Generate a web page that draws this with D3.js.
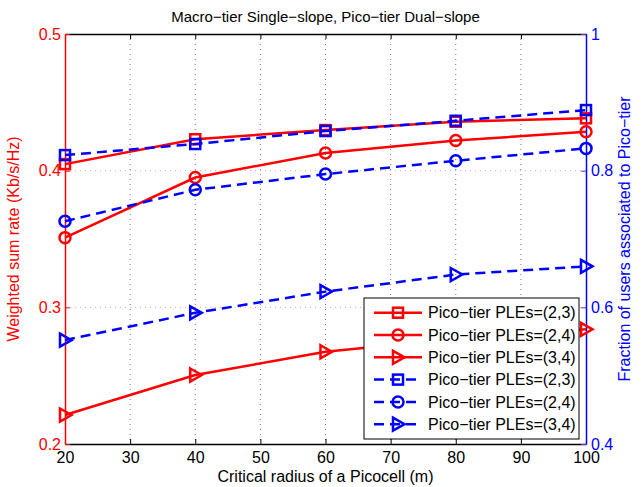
<!DOCTYPE html>
<html><head><meta charset="utf-8">
<script src="https://cdn.jsdelivr.net/npm/d3@7"></script>
<style>
html,body{margin:0;padding:0;background:#fff;}
text{font-family:"Liberation Sans",Arial,Helvetica,sans-serif;}
</style></head>
<body><svg id="chart" width="643" height="487"></svg>
<script>
const radius = [20, 40, 60, 80, 100];
const rateSquare = [0.4048, 0.423, 0.4297, 0.4358, 0.4383];
const rateCircle = [0.351, 0.395, 0.413, 0.422, 0.4285];
const rateTriangle = [0.2212, 0.2505, 0.2675, 0.277, 0.2839];
const fracSquare = [0.8228, 0.839, 0.858, 0.873, 0.8887];
const fracCircle = [0.726, 0.772, 0.795, 0.8145, 0.8326];
const fracTriangle = [0.552, 0.592, 0.623, 0.648, 0.660];
const xTicks = [20, 30, 40, 50, 60, 70, 80, 90, 100];
const leftTicks = [0.2, 0.3, 0.4, 0.5];
const rightTicks = [0.4, 0.6, 0.8, 1];
const legendLabels = ["Pico\u2212tier PLEs=(2,3)", "Pico\u2212tier PLEs=(2,4)", "Pico\u2212tier PLEs=(3,4)",
                      "Pico\u2212tier PLEs=(2,3)", "Pico\u2212tier PLEs=(2,4)", "Pico\u2212tier PLEs=(3,4)"];

const L = 65, R = 586, T = 34, B = 444;
const RED = "#ff0000", BLUE = "#0000ff";
const svg = d3.select("#chart");
const x = d3.scaleLinear().domain([20, 100]).range([L, R]);
const yL = d3.scaleLinear().domain([0.2, 0.5]).range([B, T]);
const yR = d3.scaleLinear().domain([0.4, 1]).range([B, T]);

// grid
const grid = svg.append("g");
grid.selectAll(".vg").data(xTicks.slice(1, -1)).join("line")
  .attr("x1", d => x(d)).attr("x2", d => x(d)).attr("y1", T).attr("y2", B)
  .attr("stroke", "#777").attr("stroke-width", 1).attr("stroke-dasharray", "1,4");
grid.selectAll(".hg").data(leftTicks.slice(1, -1)).join("line")
  .attr("x1", L).attr("x2", R).attr("y1", d => yL(d)).attr("y2", d => yL(d))
  .attr("stroke", "#f59a9a").attr("stroke-width", 1).attr("stroke-dasharray", "1,4");

// axes
const fs = "16px";
const axBottom = svg.append("g").attr("transform", `translate(0,${B})`)
  .call(d3.axisBottom(x).tickValues(xTicks).tickFormat(d3.format("d")).tickSizeInner(-5).tickSizeOuter(0).tickPadding(8));
axBottom.select(".domain").attr("stroke", "#000").attr("stroke-width", 1.5);
axBottom.selectAll(".tick line").attr("stroke", "#000");
axBottom.selectAll("text").attr("font-size", fs).attr("fill", "#000").attr("font-family", null);

const axTop = svg.append("g").attr("transform", `translate(0,${T})`)
  .call(d3.axisTop(x).tickValues(xTicks).tickFormat("").tickSizeInner(-5).tickSizeOuter(0));
axTop.select(".domain").attr("stroke", "#000").attr("stroke-width", 1.5);
axTop.selectAll(".tick line").attr("stroke", "#000");

const axLeft = svg.append("g").attr("transform", `translate(${L},0)`)
  .call(d3.axisLeft(yL).tickValues(leftTicks).tickFormat(d3.format(".1f")).tickSizeInner(-5).tickSizeOuter(0).tickPadding(4));
axLeft.select(".domain").attr("stroke", RED).attr("stroke-width", 1.5);
axLeft.selectAll(".tick line").attr("stroke", RED);
axLeft.selectAll("text").attr("font-size", fs).attr("fill", RED).attr("font-family", null);

const axRight = svg.append("g").attr("transform", `translate(${R},0)`)
  .call(d3.axisRight(yR).tickValues(rightTicks).tickFormat(d => d === 1 ? "1" : d3.format(".1f")(d)).tickSizeInner(-5).tickSizeOuter(0).tickPadding(5));
axRight.select(".domain").attr("stroke", BLUE).attr("stroke-width", 1.5);
axRight.selectAll(".tick line").attr("stroke", "#7a2ad0");
axRight.selectAll("text").attr("font-size", fs).attr("fill", BLUE).attr("font-family", null);

// titles
svg.append("text").attr("x", (L + R) / 2).attr("y", 22).attr("text-anchor", "middle")
  .attr("font-size", "15px").attr("fill", "#000").text("Macro\u2212tier Single\u2212slope, Pico\u2212tier Dual\u2212slope");
svg.append("text").attr("x", (L + R) / 2).attr("y", 482).attr("text-anchor", "middle")
  .attr("font-size", fs).attr("fill", "#000").text("Critical radius of a Picocell (m)");
svg.append("text").attr("transform", `translate(19,${(T + B) / 2}) rotate(-90)`).attr("text-anchor", "middle")
  .attr("font-size", fs).attr("fill", RED).text("Weighted sum rate (Kb/s/Hz)");
svg.append("text").attr("transform", `translate(630,${(T + B) / 2}) rotate(-90)`).attr("text-anchor", "middle")
  .attr("font-size", fs).attr("fill", BLUE).text("Fraction of users associated to Pico\u2212tier");

// markers
function marker(g, type, cx, cy, color) {
  if (type === "square") {
    g.append("rect").attr("x", cx - 5).attr("y", cy - 5).attr("width", 10).attr("height", 10)
      .attr("fill", "none").attr("stroke", color).attr("stroke-width", 2.5);
  } else if (type === "circle") {
    g.append("circle").attr("cx", cx).attr("cy", cy).attr("r", 5.5)
      .attr("fill", "none").attr("stroke", color).attr("stroke-width", 2.5);
  } else {
    g.append("path").attr("d", `M${cx - 5},${cy - 6.5}L${cx + 6.5},${cy}L${cx - 5},${cy + 6.5}Z`)
      .attr("fill", "none").attr("stroke", color).attr("stroke-width", 2.5).attr("stroke-linejoin", "miter");
  }
}

const series = [
  {vals: rateSquare, y: yL, color: RED, dash: null, m: "square"},
  {vals: rateCircle, y: yL, color: RED, dash: null, m: "circle"},
  {vals: rateTriangle, y: yL, color: RED, dash: null, m: "triangle"},
  {vals: fracSquare, y: yR, color: BLUE, dash: "10,6", m: "square"},
  {vals: fracCircle, y: yR, color: BLUE, dash: "10,6", m: "circle"},
  {vals: fracTriangle, y: yR, color: BLUE, dash: "10,6", m: "triangle"}
];

const plot = svg.append("g");
series.forEach(s => {
  const line = d3.line().x((d, i) => x(radius[i])).y(d => s.y(d));
  plot.append("path").datum(s.vals).attr("d", line).attr("fill", "none")
    .attr("stroke", s.color).attr("stroke-width", 2.5).attr("stroke-dasharray", s.dash);
  const mg = plot.append("g");
  s.vals.forEach((v, i) => marker(mg, s.m, x(radius[i]), s.y(v), s.color));
});

// legend
const lg = svg.append("g");
lg.append("rect").attr("x", 364).attr("y", 298).attr("width", 215).attr("height", 141)
  .attr("fill", "#fff").attr("stroke", "#000").attr("stroke-width", 1);
series.forEach((s, i) => {
  const cy = 312.7 + i * 22.3;
  lg.append("line").attr("x1", 374).attr("x2", 422).attr("y1", cy).attr("y2", cy)
    .attr("stroke", s.color).attr("stroke-width", 2.5).attr("stroke-dasharray", s.dash);
  marker(lg, s.m, 398, cy, s.color);
  lg.append("text").attr("x", 428).attr("y", cy).attr("dy", "0.36em").attr("font-size", fs)
    .attr("fill", "#000").text(legendLabels[i]);
});
</script></body></html>
